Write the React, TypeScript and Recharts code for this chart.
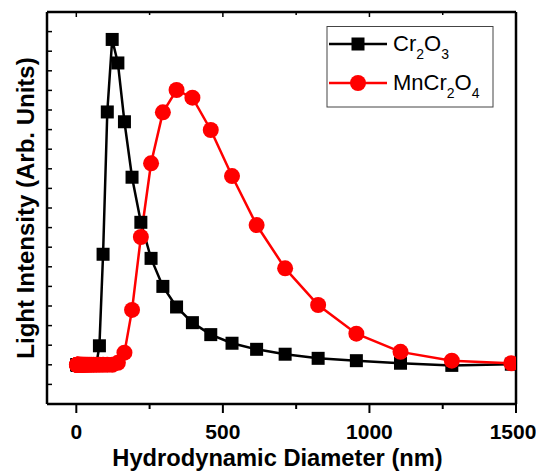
import { LineChart, Line, XAxis, YAxis, Label } from 'recharts'

// DLS size bins (nm)
const diameters = [
  2.01, 2.328, 2.696, 3.122, 3.615, 4.187, 4.849, 5.615, 6.503, 7.531,
  8.721, 10.1, 11.7, 13.54, 15.69, 18.17, 21.04, 24.36, 28.21, 32.67,
  37.84, 43.82, 50.75, 58.77, 68.06,
  78.82, 91.28, 105.7, 122.4, 141.8, 164.2, 190.1, 220.2, 255.0, 295.3,
  342.0, 396.1, 458.7, 531.2, 615.1, 712.4, 825.0, 955.4, 1106, 1281, 1484,
]
const cr2o3 = [
  2, 2, 2, 2, 2, 2, 2, 2, 2, 2,
  2, 2, 2, 2, 2, 2, 2, 2, 2, 2,
  2, 2, 2, 2, 2,
  2.97, 7.64, 14.9, 18.6, 17.4, 14.4, 11.57, 9.27, 7.43, 6.0,
  4.95, 4.15, 3.54, 3.1, 2.79, 2.54, 2.33, 2.21, 2.08, 1.97, 2.03,
]
const mncr2o4 = [
  2, 2, 2, 2, 2, 2, 2, 2, 2, 2,
  2, 2, 2, 2, 2, 2, 2, 2, 2, 2,
  2, 2, 2, 2, 2,
  2, 2, 2, 2, 2.1, 2.62, 4.8, 8.52, 12.28, 14.88,
  16.02, 15.63, 13.98, 11.63, 9.13, 6.92, 5.05, 3.59, 2.66, 2.21, 2.08,
]

const xMajor = [0, 500, 1000, 1500]
const xTicks = [0, 250, 500, 750, 1000, 1250, 1500]
const yTicks = [0, 1, 2, 3, 4, 5, 6, 7, 8, 9, 10, 11, 12, 13, 14, 15, 16, 17, 18, 19, 20]

const font = '"Liberation Sans", Arial, sans-serif'

const data = diameters.map((d, i) => ({ d, cr: cr2o3[i], mn: mncr2o4[i] }))

const BottomTick = ({ x, y, payload }: any) => {
  const major = xMajor.includes(payload.value)
  // last label sits on the page edge, nudge it in a bit
  const dx = payload.value === 1500 ? -3 : 0
  return (
    <g>
      <line x1={x} x2={x} y1={y} y2={y + (major ? 9 : 5)} stroke="#000" strokeWidth={2} />
      {major && (
        <text x={x + dx} y={y + 35} textAnchor="middle" fontSize={21} fontWeight="bold" fontFamily={font} fill="#000">
          {payload.value}
        </text>
      )}
    </g>
  )
}

const TopTick = ({ x, y, payload }: any) => {
  const major = xMajor.includes(payload.value)
  return <line x1={x} x2={x} y1={y} y2={y + (major ? 5 : 3)} stroke="#000" strokeWidth={1.5} />
}

const LeftTick = ({ x, y }: any) => <line x1={x} x2={x + 5} y1={y} y2={y} stroke="#000" strokeWidth={1.5} />
const RightTick = ({ x, y }: any) => <line x1={x} x2={x + 4} y1={y} y2={y} stroke="#000" strokeWidth={1.5} />

const Square = (p: any) => (
  <rect key={`sq-${p.index}`} x={p.cx - 6.5} y={p.cy - 6.5} width={13} height={13} fill="#000" />
)

export default function App() {
  const axisLine = { stroke: '#000', strokeWidth: 2.5 }
  return (
    <div style={{ position: 'absolute', left: 0, top: 0, width: 536, height: 475, background: '#fff' }}>
      <LineChart width={536} height={475} data={data} margin={{ top: 0, right: 0, bottom: 0, left: 0 }}>
        <XAxis
          xAxisId="b" dataKey="d" type="number" domain={[-100, 1500]} ticks={xTicks} interval={0}
          allowDataOverflow height={71} tickSize={0} tickMargin={0} tick={<BottomTick />} tickLine={false}
          axisLine={axisLine}
        >
          <Label
            content={({ viewBox }: any) => (
              <text x={viewBox.x + viewBox.width / 2 - 4} y={466} textAnchor="middle" fontSize={23.7}
                fontWeight="bold" fontFamily={font} fill="#000">
                Hydrodynamic Diameter (nm)
              </text>
            )}
          />
        </XAxis>
        <XAxis
          xAxisId="t" orientation="top" dataKey="d" type="number" domain={[-100, 1500]} ticks={xTicks}
          interval={0} allowDataOverflow height={12} tickSize={0} tickMargin={0} tick={<TopTick />}
          tickLine={false} axisLine={axisLine}
        />
        <YAxis
          yAxisId="l" type="number" domain={[0, 20]} ticks={yTicks} interval={0} width={47}
          tickSize={0} tickMargin={0} tick={<LeftTick />} tickLine={false} axisLine={axisLine}
        >
          <Label
            content={({ viewBox }: any) => {
              const cy = viewBox.y + viewBox.height / 2
              return (
                <text x={34} y={cy} transform={`rotate(-90, 34, ${cy})`} textAnchor="middle" fontSize={24}
                  fontWeight="bold" fontFamily={font} fill="#000">
                  Light Intensity (Arb. Units)
                </text>
              )
            }}
          />
        </YAxis>
        <YAxis
          yAxisId="r" orientation="right" type="number" domain={[0, 20]} ticks={yTicks} interval={0}
          width={20} tickSize={0} tickMargin={0} tick={<RightTick />} tickLine={false} axisLine={axisLine}
        />
        <Line
          xAxisId="b" yAxisId="l" dataKey="cr" stroke="#000" strokeWidth={2.5} dot={Square}
          activeDot={false} isAnimationActive={false}
        />
        <Line
          xAxisId="b" yAxisId="l" dataKey="mn" stroke="#ff0000" strokeWidth={2.5}
          dot={{ r: 8, fill: '#ff0000', stroke: 'none' }} activeDot={false} isAnimationActive={false}
        />
      </LineChart>
      <svg width={536} height={475} style={{ position: 'absolute', left: 0, top: 0, pointerEvents: 'none' }}>
        <rect x={327} y={26.5} width={166} height={80.5} fill="#fff" stroke="#444" strokeWidth={1} />
        <line x1={329} x2={387} y1={44} y2={44} stroke="#000" strokeWidth={2.5} />
        <rect x={351.5} y={37.5} width={13} height={13} fill="#000" />
        <text x={393} y={51} fontSize={22} fontFamily={font} fill="#000">
          Cr<tspan fontSize={14} dy={8}>2</tspan><tspan dy={-8}>O</tspan><tspan fontSize={14} dy={8}>3</tspan>
        </text>
        <line x1={329} x2={387} y1={83} y2={83} stroke="#ff0000" strokeWidth={2.5} />
        <circle cx={358} cy={83} r={8} fill="#ff0000" />
        <text x={393} y={90} fontSize={22} fontFamily={font} fill="#000">
          MnCr<tspan fontSize={14} dy={8}>2</tspan><tspan dy={-8}>O</tspan><tspan fontSize={14} dy={8}>4</tspan>
        </text>
      </svg>
    </div>
  )
}
